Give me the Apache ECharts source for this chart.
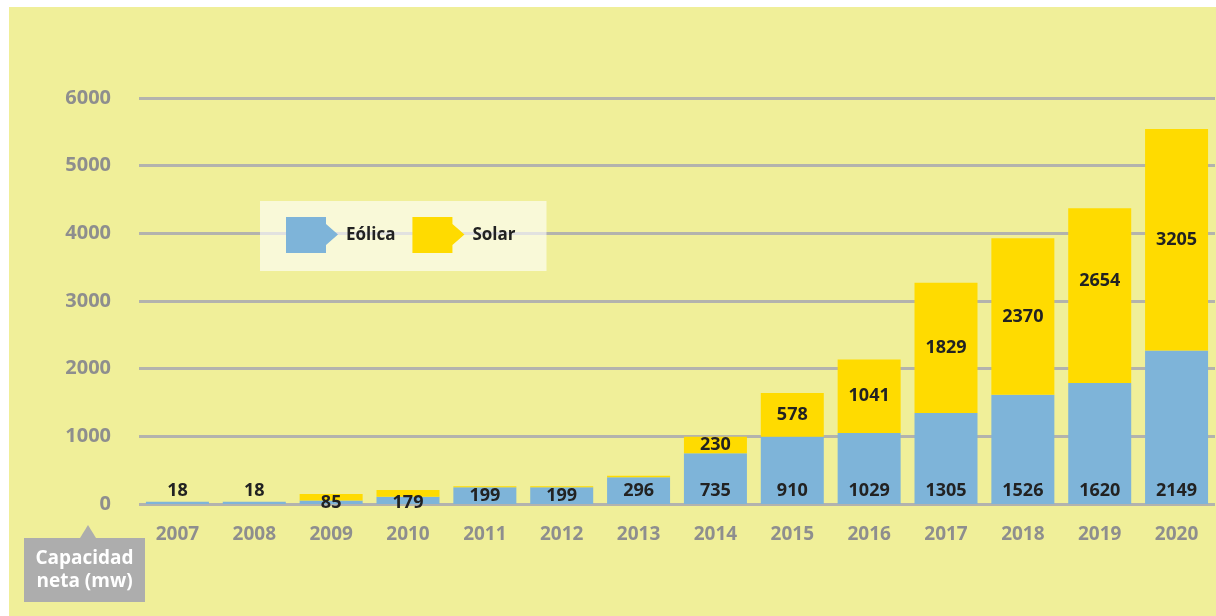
<!DOCTYPE html>
<html>
<head>
<meta charset="utf-8">
<script src="https://cdn.jsdelivr.net/npm/echarts@6/dist/echarts.min.js"></script>
<style>
  html, body { margin: 0; padding: 0; background: #ffffff; width: 1216px; height: 616px; overflow: hidden; }
  #chart { position: absolute; left: 9px; top: 7px; width: 1207px; height: 609px; background: #f0ef99; }
</style>
</head>
<body>
<div id="chart"></div>
<script>
// ---- data ----
const years = ['2007','2008','2009','2010','2011','2012','2013','2014','2015','2016','2017','2018','2019','2020'];
// bar heights as drawn in the picture (MW)
const eolicaValues = [35, 35, 50, 108, 246, 246, 394, 750, 995, 1050, 1345, 1615, 1790, 2270];
const solarValues  = [0, 0, 98, 99, 15, 15, 22, 244, 645, 1087, 1925, 2314, 2582, 3273];
// printed value labels
const eolicaLabels = ['18','18','85','179','199','199','296','735','910','1029','1305','1526','1620','2149'];
const solarLabels  = ['','','','','','','','230','578','1041','1829','2370','2654','3205'];
const yTicks = [0, 1000, 2000, 3000, 4000, 5000, 6000];
const seriesNames = ['Eólica', 'Solar'];

// ---- label fine placement (pixels) ----
const eolicaLabelShift = [0, 0, 12, 12, 5, 5, 0, 0, 0, 0, 0, 0, 0, 0];
const solarLabelShift  = [0, 0, 0, 0, 0, 0, 0, 0, 0, 0, 0, 0, -15, 0];

const FONT = '"Open Sans", "Noto Sans", sans-serif';
const tagIcon = 'path://M0,0 L40,0 L40,7 L52,17.5 L40,28 L40,36 L0,36 Z';

const chart = echarts.init(document.getElementById('chart'), null, { renderer: 'canvas' });

const eolicaData = eolicaValues.map((v, i) => ({
  value: v,
  label: { offset: [0, eolicaLabelShift[i]] }
}));
const solarData = solarValues.map((v, i) => ({
  value: v,
  label: { offset: [0, solarLabelShift[i]] }
}));

const option = {
  backgroundColor: '#f0ef99',
  animation: false,
  textStyle: { fontFamily: FONT },
  grid: { left: 130, right: 1, top: 91, bottom: 112, containLabel: false },
  legend: {
    left: 251, top: 194,
    orient: 'horizontal',
    backgroundColor: 'rgba(255,255,255,0.62)',
    padding: [16, 31, 18, 26],
    itemGap: 17,
    itemWidth: 52, itemHeight: 36,
    icon: tagIcon,
    textStyle: { fontFamily: FONT, fontWeight: 'bold', fontSize: 17, color: '#222222', padding: [0, 0, 0, 3] },
    data: seriesNames
  },
  xAxis: {
    type: 'category',
    data: years,
    axisLine: { show: false },
    axisTick: { show: false },
    axisLabel: { color: '#8e8e8e', fontWeight: 'bold', fontSize: 19, margin: 21, fontFamily: FONT },
    splitLine: { show: false }
  },
  yAxis: {
    type: 'value',
    min: yTicks[0], max: yTicks[yTicks.length - 1], interval: 1000,
    axisLine: { show: false },
    axisTick: { show: false },
    axisLabel: { color: '#8e8e8e', fontWeight: 'bold', fontSize: 20, margin: 28, fontFamily: FONT,
      formatter: v => String(v) },
    splitLine: { lineStyle: { color: '#b3b3ad', width: 3 } }
  },
  series: [
    {
      name: seriesNames[0], type: 'bar', stack: 'total',
      barWidth: 63,
      itemStyle: { color: '#7eb4d9' },
      label: {
        show: true, position: 'insideBottom', distance: 4,
        color: '#222222', fontWeight: 'bold', fontSize: 18, fontFamily: FONT,
        formatter: p => eolicaLabels[p.dataIndex]
      },
      data: eolicaData
    },
    {
      name: seriesNames[1], type: 'bar', stack: 'total',
      barWidth: 63,
      itemStyle: { color: '#ffdb00' },
      label: {
        show: true, position: 'inside',
        color: '#222222', fontWeight: 'bold', fontSize: 18, fontFamily: FONT,
        formatter: p => solarLabels[p.dataIndex]
      },
      data: solarData
    }
  ],
  graphic: [
    {
      type: 'group', left: 15, top: 518,
      children: [
        { type: 'polygon', shape: { points: [[56, 13], [64, 0], [72, 13]] }, style: { fill: '#adadad' } },
        { type: 'rect', shape: { x: 0, y: 13, width: 121, height: 64 }, style: { fill: '#adadad' } },
        { type: 'text', x: 60.5, y: 45, style: {
            text: 'Capacidad\nneta (mw)', fill: '#ffffff', font: 'bold 19px ' + FONT,
            align: 'center', verticalAlign: 'middle', lineHeight: 23 } }
      ]
    }
  ]
};
chart.setOption(option);
</script>
</body>
</html>
